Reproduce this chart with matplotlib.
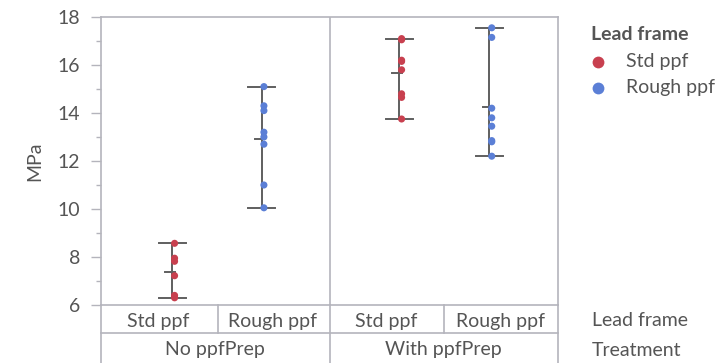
import matplotlib
matplotlib.use("Agg")
import matplotlib.pyplot as plt
from matplotlib.lines import Line2D
import numpy as np

plt.rcParams["font.family"] = ["Lato", "DejaVu Sans"]

# ─── Data ───────────────────────────────────────────────────────────────────
treatments = ["No ppfPrep", "With ppfPrep"]
lead_frames = ["Std ppf", "Rough ppf"]
std_no = [8.57, 7.95, 7.82, 7.22, 6.40, 6.30]
rough_no = [15.1, 14.3, 14.1, 13.2, 13.0, 12.7, 11.0, 10.05]
std_with = [17.1, 17.05, 16.2, 16.15, 15.8, 14.8, 14.65, 13.75]
rough_with = [17.55, 17.15, 14.2, 13.8, 13.45, 12.85, 12.8, 12.2]
cells = [std_no, rough_no, std_with, rough_with]
cell_frame = [0, 1, 0, 1]

# ─── Style ──────────────────────────────────────────────────────────────────
W, H = 718, 363
RED = "#c8404f"
BLUE = "#5b7fd6"
FRAME = "#b4b4bc"
BAR = "#5f5f5f"
TXT = "#555555"
FS = 14
colors = [RED, BLUE]
bar_shift = [0.124, -0.094, 0.111, -0.10]   # JMP puts the bar off-centre

L, R, T, B = 101, 558, 17, 305

fig = plt.figure(figsize=(W / 100, H / 100), dpi=100)
ax = fig.add_axes([L / W, 1 - B / H, (R - L) / W, (B - T) / H])
ax.set_xlim(-0.5, 3.5)
ax.set_ylim(6, 18)

for i, vals in enumerate(cells):
    x = i + bar_shift[i]
    lo, hi, m = min(vals), max(vals), np.mean(vals)
    ax.plot([x, x], [lo, hi], color=BAR, lw=1.4, zorder=2)
    for v in (lo, hi):
        ax.plot([x - 0.12, x + 0.12], [v, v], color=BAR, lw=1.4, zorder=2)
    ax.plot([x - 0.06, x + 0.02], [m, m], color=BAR, lw=1.4, zorder=2)
    ax.scatter(np.full(len(vals), x + 0.02), vals, s=26,
               color=colors[cell_frame[i]], edgecolors="none", zorder=3)

# divider between treatments
ax.axvline(1.5, color=FRAME, lw=1.2, zorder=1)

ax.set_yticks(np.arange(6, 19, 2))
ax.set_yticks(np.arange(7, 18, 2), minor=True)
ax.set_xticks([])
ax.tick_params(axis="y", which="major", length=7, width=1, color=FRAME,
               labelsize=FS, labelcolor=TXT, pad=8)
ax.tick_params(axis="y", which="minor", length=3.5, width=1, color=FRAME)
for s in ax.spines.values():
    s.set_color(FRAME)
    s.set_linewidth(1.2)
ax.set_ylabel("MPa", fontsize=FS, color=TXT, labelpad=10)

# ─── Bottom category table ─────────────────────────────────────────────────
def fline(x0, y0, x1, y1):
    fig.add_artist(Line2D([x0 / W, x1 / W], [1 - y0 / H, 1 - y1 / H],
                          color=FRAME, lw=1.2))

row1 = 333
for xp in (L, 330, R):
    fline(xp, B, xp, H)
for xp in (218, 444):
    fline(xp, B, xp, row1)
fline(L, row1, R, row1)

cw = (R - L) / 4
for i in range(4):
    fig.text((L + cw * (i + 0.5)) / W, 1 - 321 / H, lead_frames[cell_frame[i]],
             ha="center", va="center", fontsize=FS, color=TXT)
for j, t in enumerate(treatments):
    fig.text((L + 2 * cw * (j + 0.5)) / W, 1 - 350 / H, t,
             ha="center", va="center", fontsize=FS, color=TXT)
fig.text(592 / W, 1 - 321 / H, "Lead frame", ha="left", va="center",
         fontsize=FS, color=TXT)
fig.text(592 / W, 1 - 350 / H, "Treatment", ha="left", va="center",
         fontsize=FS, color=TXT)

# ─── Legend (placed by hand, JMP style) ─────────────────────────────────────
fig.text(591 / W, 1 - 35 / H, "Lead frame", ha="left", va="center",
         fontsize=FS, fontweight="bold", color=TXT)
for k, (lab, c) in enumerate(zip(lead_frames, colors)):
    yk = 1 - (62 + 26 * k) / H
    fig.add_artist(Line2D([598 / W], [yk], ls="none", marker="o", ms=8.5,
                          color=c, markeredgewidth=0))
    fig.text(626 / W, yk, lab, ha="left", va="center", fontsize=FS, color=TXT)

fig.savefig("out.png", dpi=100)
